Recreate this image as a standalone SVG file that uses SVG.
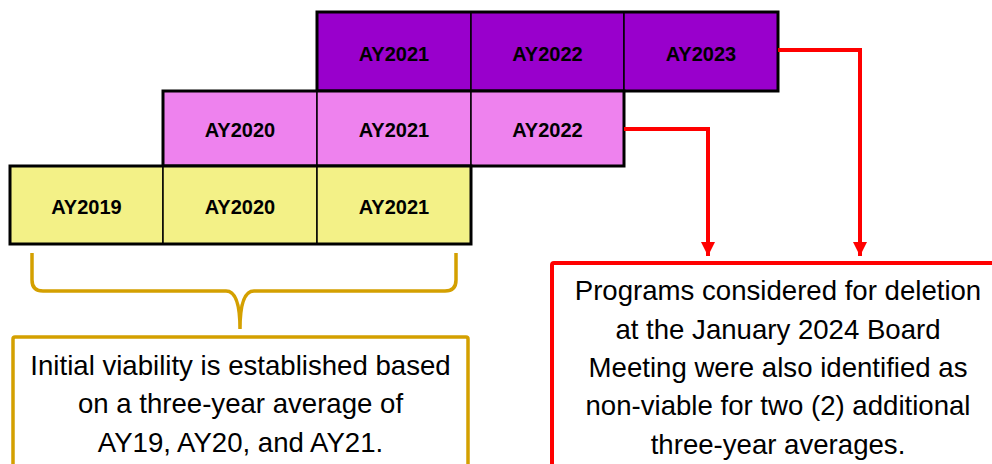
<svg xmlns="http://www.w3.org/2000/svg" width="992" height="464" viewBox="0 0 992 464">
<style>
.cell{stroke:#000;stroke-width:1.5}
.row{fill:none;stroke:#000;stroke-width:3}
.p{fill:#9900CC}
.k{fill:#EE82EE}
.y{fill:#F3F187}
.lbl{font-family:"Liberation Sans",Arial,sans-serif;font-weight:bold;font-size:20px;text-anchor:middle;fill:#000}
.body{font-family:"Liberation Sans",Arial,sans-serif;font-size:27.6px;text-anchor:middle;fill:#000}
.red{fill:none;stroke:#FF0000;stroke-width:4}
.gold{fill:none;stroke:#D4A000;stroke-width:3.5}
</style>
<defs>
<marker id="ah" markerUnits="userSpaceOnUse" markerWidth="16" markerHeight="16" viewBox="0 0 16 16" refX="14" refY="8" orient="auto">
<path d="M0 1 L14 8 L0 15 Z" fill="#FF0000"/>
</marker>
</defs>
<g id="row-top">
<g id="top-ay2021"><rect class="cell p" x="317" y="12" width="154" height="79"/><text class="lbl" x="394" y="60.5">AY2021</text></g>
<g id="top-ay2022"><rect class="cell p" x="471" y="12" width="153" height="79"/><text class="lbl" x="547.5" y="60.5">AY2022</text></g>
<g id="top-ay2023"><rect class="cell p" x="624" y="12" width="154" height="79"/><text class="lbl" x="701" y="60.5">AY2023</text></g>
<rect class="row" x="317" y="12" width="461" height="79"/>
</g>
<g id="row-mid">
<g id="mid-ay2020"><rect class="cell k" x="163" y="91" width="154" height="75"/><text class="lbl" x="240" y="136.5">AY2020</text></g>
<g id="mid-ay2021"><rect class="cell k" x="317" y="91" width="154" height="75"/><text class="lbl" x="394" y="136.5">AY2021</text></g>
<g id="mid-ay2022"><rect class="cell k" x="471" y="91" width="153" height="75"/><text class="lbl" x="547.5" y="136.5">AY2022</text></g>
<rect class="row" x="163" y="91" width="461" height="75"/>
</g>
<g id="row-bot">
<g id="bot-ay2019"><rect class="cell y" x="10" y="166" width="153" height="78"/><text class="lbl" x="86.5" y="213.5">AY2019</text></g>
<g id="bot-ay2020"><rect class="cell y" x="163" y="166" width="154" height="78"/><text class="lbl" x="240" y="213.5">AY2020</text></g>
<g id="bot-ay2021"><rect class="cell y" x="317" y="166" width="154" height="78"/><text class="lbl" x="394" y="213.5">AY2021</text></g>
<rect class="row" x="10" y="166" width="461" height="78"/>
</g>
<g id="connectors">
<path class="red" d="M624 129 H708 V256" marker-end="url(#ah)"/>
<path class="red" d="M778 50 H860 V256" marker-end="url(#ah)"/>
<path class="gold" d="M32 253 V280 Q32 291 43 291 H226 Q240 291 240 329 Q240 291 254 291 H445 Q456 291 456 280 V253"/>
</g>
<g id="initial-note">
<rect class="gold" x="13" y="337" width="455" height="200" rx="2"/>
<text class="body" x="240.5" y="375">Initial viability is established based</text>
<text class="body" x="240.5" y="413">on a three-year average of</text>
<text class="body" x="240.5" y="451.5">AY19, AY20, and AY21.</text>
</g>
<g id="deletion-note">
<rect class="red" x="552" y="263" width="500" height="300" rx="2"/>
<text class="body" x="778" y="300">Programs considered for deletion</text>
<text class="body" x="778" y="338.5">at the January 2024 Board</text>
<text class="body" x="778" y="377">Meeting were also identified as</text>
<text class="body" x="778" y="415">non-viable for two (2) additional</text>
<text class="body" x="778" y="453.5">three-year averages.</text>
</g>
</svg>
